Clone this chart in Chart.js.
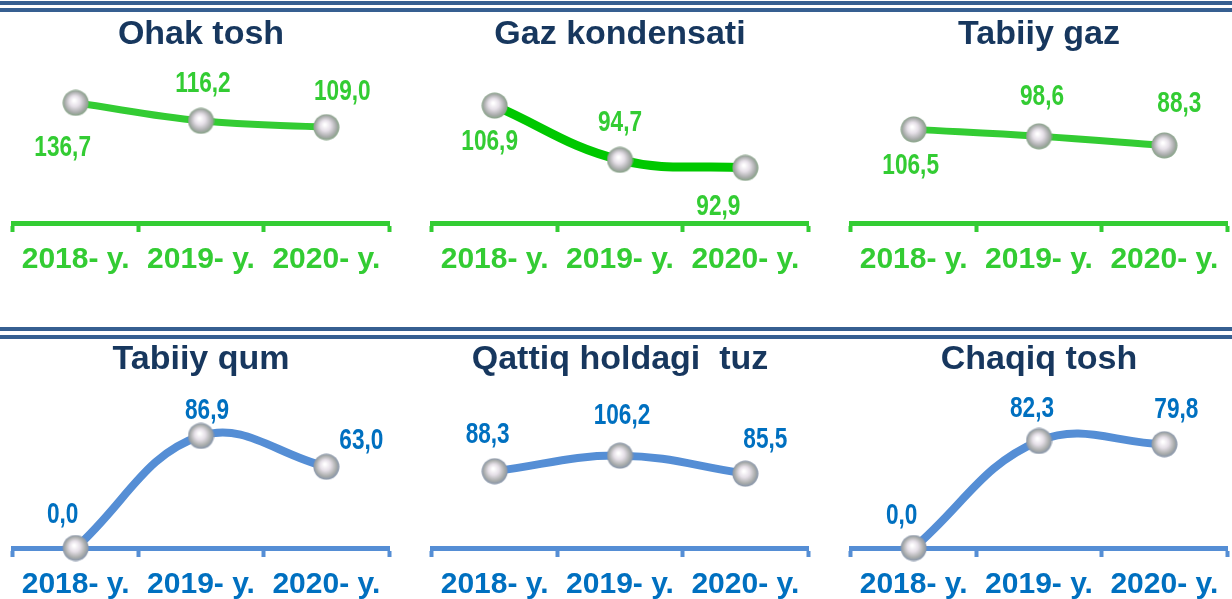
<!DOCTYPE html>
<html>
<head>
<meta charset="utf-8">
<script src="https://cdn.jsdelivr.net/npm/chart.js@4.4.1/dist/chart.umd.min.js"></script>
<style>
  html, body { margin: 0; padding: 0; background: #fff; overflow: hidden; }
  body { width: 1232px; height: 599px; position: relative; }
  .rule { position: absolute; left: 0; width: 1232px; height: 4px; background: #365f91; }
  canvas { position: absolute; }
</style>
</head>
<body>
<div class="rule" style="top:1px"></div>
<div class="rule" style="top:8px"></div>
<div class="rule" style="top:327px"></div>
<div class="rule" style="top:335px"></div>

<canvas id="c1" width="410" height="300" style="left:0;top:0"></canvas>
<canvas id="c2" width="410" height="300" style="left:419px;top:0"></canvas>
<canvas id="c3" width="410" height="300" style="left:838px;top:0"></canvas>
<canvas id="c4" width="410" height="293" style="left:0;top:320px"></canvas>
<canvas id="c5" width="410" height="293" style="left:419px;top:320px"></canvas>
<canvas id="c6" width="410" height="293" style="left:838px;top:320px"></canvas>

<script>
// data
const years = ['2018- y.', '2019- y.', '2020- y.'];
const ohakTosh = [136.7, 116.2, 109.0];
const gazKondensati = [106.9, 94.7, 92.9];
const tabiiyGaz = [106.5, 98.6, 88.3];
const tabiiyQum = [0.0, 86.9, 63.0];
const qattiqTuz = [88.3, 106.2, 85.5];
const chaqiqTosh = [0.0, 82.3, 79.8];
const titles = ['Ohak tosh', 'Gaz kondensati', 'Tabiiy gaz', 'Tabiiy qum', 'Qattiq holdagi  tuz', 'Chaqiq tosh'];

const green = '#33cc33';
const blue = '#558ed5';
const blueText = '#0070c0';
const navy = '#17375e';

// glassy ball used as the marker
function ball(edge) {
  const c = document.createElement('canvas');
  c.width = 27; c.height = 27;
  const g = c.getContext('2d');
  const grd = g.createRadialGradient(12, 11, 1, 13.5, 13.5, 13.5);
  grd.addColorStop(0, '#ffffff');
  grd.addColorStop(0.35, '#e6e0e8');
  grd.addColorStop(0.75, '#a9acab');
  grd.addColorStop(1, edge);
  g.fillStyle = grd;
  g.beginPath();
  g.arc(13.5, 13.5, 13, 0, Math.PI * 2);
  g.fill();
  return c;
}
const greenBall = ball('#7fa07f');
const blueBall = ball('#7f8fa8');

// value labels, offsets in px from the point
const valueLabels = {
  id: 'valueLabels',
  afterDatasetsDraw(chart, args, opts) {
    const ctx = chart.ctx;
    const meta = chart.getDatasetMeta(0);
    const data = chart.data.datasets[0].data;
    ctx.save();
    ctx.font = 'bold 29px "Liberation Sans", Arial, sans-serif';
    ctx.fillStyle = opts.color;
    ctx.textAlign = 'center';
    ctx.textBaseline = 'middle';
    meta.data.forEach(function (pt, i) {
      const off = opts.offsets[i];
      ctx.save();
      ctx.translate(pt.x + off[0], pt.y + off[1]);
      ctx.scale(0.78, 1);
      ctx.fillText(data[i].toFixed(1).replace('.', ','), 0, 0);
      ctx.restore();
    });
    ctx.restore();
  }
};

function makeChart(id, title, values, opt) {
  const top = opt.row === 0;
  return new Chart(document.getElementById(id), {
    type: 'line',
    data: {
      labels: years,
      datasets: [{
        data: values,
        borderColor: opt.line,
        borderWidth: opt.width,
        tension: 0.4,
        pointStyle: opt.ball,
        pointRadius: 13,
        clip: false
      }]
    },
    options: {
      responsive: false,
      animation: false,
      events: [],
      layout: { autoPadding: false, padding: { left: 13, right: 21, bottom: top ? 12 : 0 } },
      scales: {
        x: {
          offset: true,
          grid: {
            offset: true,
            drawOnChartArea: false,
            drawTicks: true,
            tickLength: 9,
            tickWidth: 4,
            tickColor: opt.axis
          },
          border: { display: true, color: opt.axis, width: 5 },
          ticks: {
            color: opt.text,
            padding: 10,
            font: { family: '"Liberation Sans", Arial, sans-serif', size: 30, weight: 'bold' }
          }
        },
        y: { display: false, min: opt.min, max: opt.max }
      },
      plugins: {
        legend: { display: false },
        tooltip: { enabled: false },
        title: {
          display: true,
          text: title,
          color: navy,
          font: { family: '"Liberation Sans", Arial, sans-serif', size: 34, weight: 'bold' },
          padding: top ? { top: 14, bottom: 17 } : { top: 19, bottom: 16 }
        },
        valueLabels: { color: opt.text, offsets: opt.offsets }
      }
    },
    plugins: [valueLabels]
  });
}

makeChart('c1', titles[0], ohakTosh, {
  row: 0, line: green, width: 7, axis: green, text: green, ball: greenBall, min: 0, max: 172,
  offsets: [[-13, 45], [2, -37], [16, -35]]
});
makeChart('c2', titles[1], gazKondensati, {
  row: 0, line: '#00c800', width: 9, axis: green, text: green, ball: greenBall, min: 80.5, max: 114.5,
  offsets: [[-5, 36], [0, -37], [-27, 39]]
});
makeChart('c3', titles[2], tabiiyGaz, {
  row: 0, line: green, width: 7, axis: green, text: green, ball: greenBall, min: 0, max: 172,
  offsets: [[-3, 37], [3, -39], [15, -41]]
});
makeChart('c4', titles[3], tabiiyQum, {
  row: 1, line: blue, width: 8, axis: blue, text: blueText, ball: blueBall, min: 0, max: 118,
  offsets: [[-13, -33], [6, -25], [35, -26]]
});
makeChart('c5', titles[4], qattiqTuz, {
  row: 1, line: blue, width: 8, axis: blue, text: blueText, ball: blueBall, min: 0, max: 175,
  offsets: [[-7, -36], [2, -40], [20, -34]]
});
makeChart('c6', titles[5], chaqiqTosh, {
  row: 1, line: blue, width: 8, axis: blue, text: blueText, ball: blueBall, min: 0, max: 117,
  offsets: [[-12, -32], [-7, -32], [12, -34]]
});
</script>
</body>
</html>
